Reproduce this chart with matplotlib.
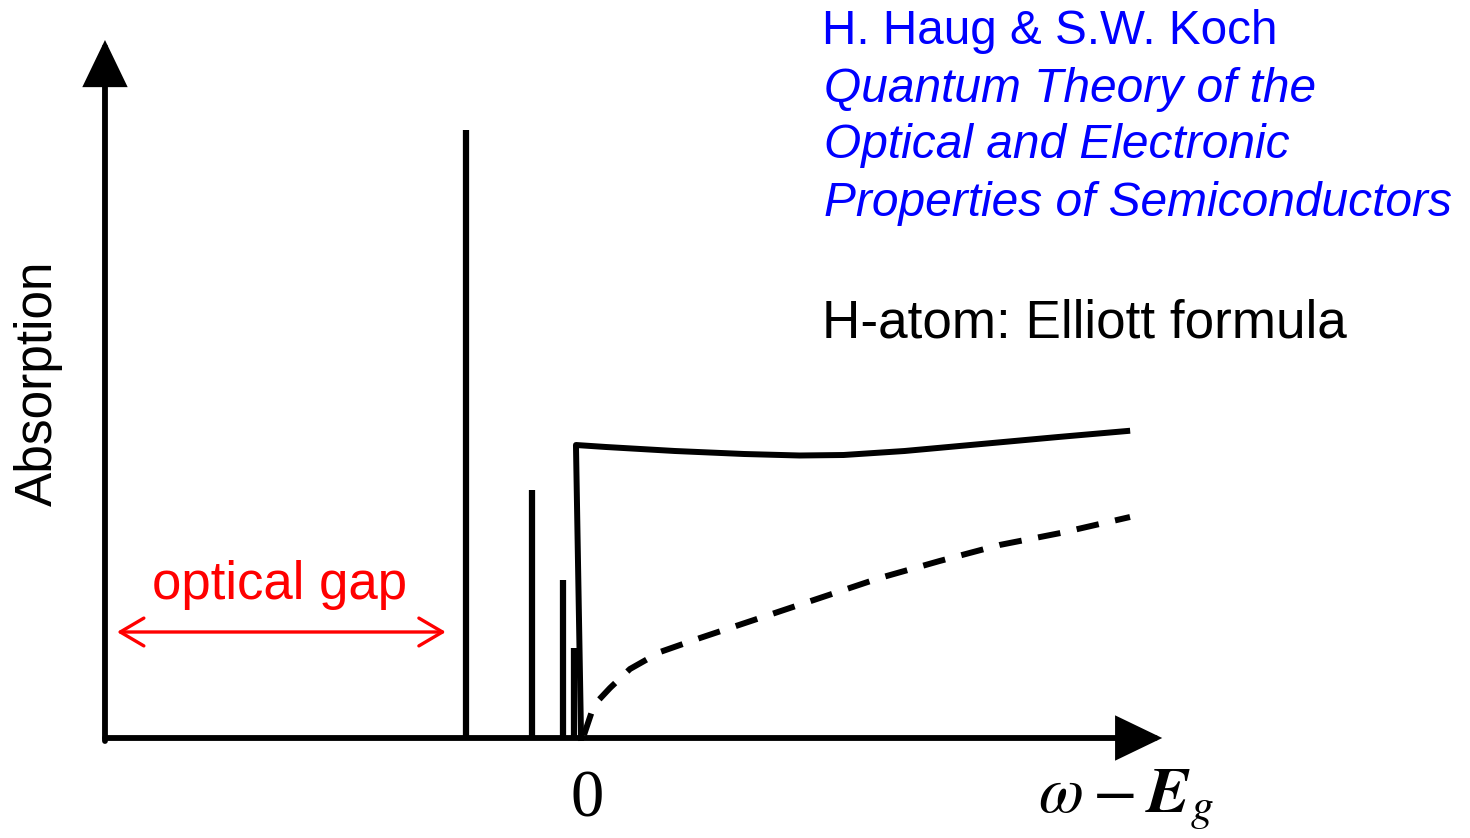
import matplotlib
matplotlib.use("Agg")
import matplotlib.pyplot as plt

# ---- data (x: photon energy relative to the gap, y: absorption, arbitrary units) ----
peak_x = [-0.991, -0.403, -0.137, -0.035]
peak_h = [6.08, 2.48, 1.58, 0.90]

cont_x = [0.027, -0.018, 0.248, 0.858, 1.47, 1.96, 2.35, 2.89, 3.57, 4.25, 4.86]
cont_y = [0.0, 2.93, 2.91, 2.87, 2.84, 2.825, 2.83, 2.87, 2.94, 3.01, 3.07]

free_x = [0.053, 0.142, 0.283, 0.46, 0.726, 1.08, 1.61, 2.14, 2.67, 3.20, 3.73, 4.27, 4.885]
free_y = [0.03, 0.33, 0.50, 0.69, 0.86, 1.00, 1.20, 1.40, 1.60, 1.77, 1.93, 2.05, 2.21]

# axis extents (data units)
x_axis = [-4.186, 5.17]
y_axis = [0.0, 6.98]
y_axis_x = -4.186
gap_arrow = [-4.08, -1.17]
gap_arrow_y = 1.06

W, H = 1470, 838
fig = plt.figure(figsize=(W / 100, H / 100), dpi=100)
ax = fig.add_axes([0, 0, 1, 1])
ax.set_xlim((0 - 578) / 113, (W - 578) / 113)
ax.set_ylim((738 - H) / 100, 738 / 100)
ax.axis("off")

# axes with arrows
arrow_kw = dict(arrowstyle="-|>,head_length=27,head_width=13",
                mutation_scale=1, lw=4.2, color="black",
                shrinkA=0, shrinkB=0, joinstyle="miter")
ax.annotate("", xy=(x_axis[1], 0), xytext=(x_axis[0], 0), arrowprops=arrow_kw)
ax.annotate("", xy=(y_axis_x, y_axis[1]), xytext=(y_axis_x, -0.03), arrowprops=arrow_kw)

# exciton peaks
ax.vlines(peak_x, 0, peak_h, colors="black", lw=4.5)

# continuum (Coulomb-enhanced)
ax.plot(cont_x, cont_y, color="black", lw=4.3, solid_joinstyle="round")

# free-particle continuum (dashed)
ax.plot(free_x, free_y, color="black", lw=4.3, dashes=(3.8, 2.8))

# optical gap arrow
ax.annotate("", xy=(gap_arrow[1], gap_arrow_y), xytext=(gap_arrow[0], gap_arrow_y),
            arrowprops=dict(arrowstyle="<->,head_length=17,head_width=10",
                            mutation_scale=1, lw=2.4, color="red",
                            shrinkA=0, shrinkB=0))


def fx(px):
    return px / W


def fy(py):
    return 1 - py / H


fig.text(fx(280), fy(585), "optical gap", color="red", fontsize=38,
         family="Liberation Sans", ha="center", va="center")
fig.text(fx(38), fy(383), "Absorption", color="black", fontsize=37,
         family="Liberation Sans", ha="center", va="center", rotation=90)
fig.text(fx(587), fy(800), "0", color="black", fontsize=48,
         family="Liberation Serif", ha="center", va="center")

plt.rcParams["mathtext.fontset"] = "stix"
fig.text(fx(1038), fy(800), r"$\omega-\boldsymbol{E}_g$", color="black",
         fontsize=47, ha="left", va="center")

blue = "#0000ff"
fig.text(fx(822), fy(31), "H. Haug & S.W. Koch", color=blue, fontsize=34.3,
         family="Liberation Sans", ha="left", va="center")
for txt, y in [("Quantum Theory of the", 89),
               ("Optical and Electronic", 145),
               ("Properties of Semiconductors", 203)]:
    fig.text(fx(824), fy(y), txt, color=blue, fontsize=34.5, style="italic",
             family="Liberation Sans", ha="left", va="center")
fig.text(fx(822), fy(323), "H-atom: Elliott formula", color="black", fontsize=38.2,
         family="Liberation Sans", ha="left", va="center")

fig.savefig("out.png", dpi=100)
